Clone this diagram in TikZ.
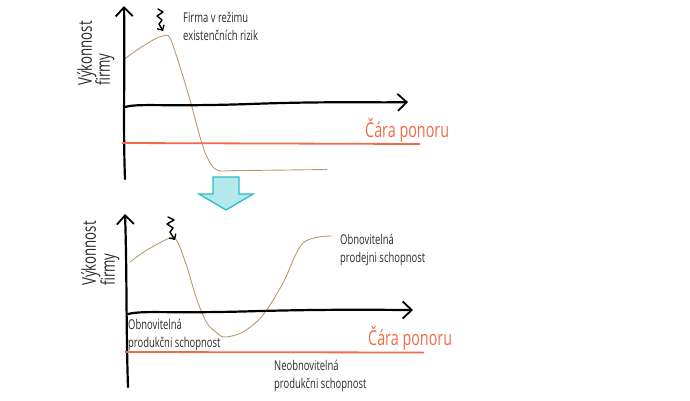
\documentclass[tikz,border=0pt]{standalone}
\usepackage{fontspec}
\setmainfont{Open Sans}[FakeStretch=0.7]
\usetikzlibrary{arrows.meta}
\definecolor{redline}{HTML}{F26B47}
\definecolor{tan}{HTML}{B89A70}
\definecolor{cyanfill}{HTML}{B3E8EC}
\definecolor{cyanline}{HTML}{2BBDC8}
\definecolor{ink}{HTML}{2A2A2A}
\tikzset{
  axis/.style={line width=2.2pt, black, line cap=round,
    -{Straight Barb[length=9pt,width=17pt,line width=1.8pt]}},
  sink/.style={line width=1.8pt, redline},
  perf/.style={line width=0.9pt, tan},
  squig/.style={line width=1.4pt, black, line cap=round, line join=round,
    -{Straight Barb[length=4pt,width=8pt,line width=1.3pt]}},
  lbl/.style={font=\fontsize{13.5}{17.5}\selectfont, text=ink, align=left, inner sep=0pt, anchor=north west},
  ylbl/.style={font=\fontsize{19}{20}\selectfont, text=ink, rotate=90, inner sep=0pt, anchor=west},
  sinklbl/.style={font=\fontsize{20.5}{22}\selectfont, text=redline, inner sep=0pt, anchor=base west},
  downarrow/.style={fill=cyanfill, draw=cyanline, line width=1.3pt, line join=miter}
}
\begin{document}
\begin{tikzpicture}[x=1pt,y=-1pt]
\useasboundingbox (0,0) rectangle (690,400);
% ---------- top panel ----------
\draw[perf] plot[smooth, tension=0.55] coordinates {(123,60) (140,48) (155,39) (163,36) (170,38) (180,67) (190,100) (200,137) (207,157) (217,170) (240,170.5) (327,169.5)};
\draw[axis] (125,179) .. controls (123,130) and (125,60) .. (124,6);
\draw[axis] (125,107) .. controls (140,103) and (160,107) .. (250,104) .. controls (330,101) and (380,103) .. (408,102);
\draw[sink] (122,143) -- (420,144);
\node[sinklbl] (s1) at (365,137) {Čára ponoru};
\draw[squig] (158,9) -- (163,12) -- (157,16) -- (162,20) -- (159,24) -- (163,31);
\node[lbl] (t1) at (183,12) {Firma v režimu\\existenčních rizik};
\node[ylbl] (y1a) at (87,86) {Výkonnost};
\node[ylbl] (y1b) at (105,86) {firmy};
% ---------- down arrow ----------
\draw[downarrow] (213,177) -- (239,177) -- (239,194) -- (253,194) -- (226,210) -- (199,194) -- (213,194) -- cycle;
% ---------- bottom panel ----------
\draw[perf] plot[smooth, tension=0.55] coordinates {(130,262) (147,250) (170,238) (177,241) (187,267) (197,300) (207,323) (217,333) (225,337) (243,332) (263,315) (283,283) (303,243) (332,236)};
\draw[axis] (128,387) .. controls (126,330) and (127,270) .. (125,214);
\draw[axis] (128,314) .. controls (145,310) and (165,314) .. (260,311) .. controls (340,309) and (390,310) .. (413,310);
\draw[sink] (125,352) -- (424,352.5);
\node[sinklbl] (s2) at (368,345) {Čára ponoru};
\draw[squig] (168,217) -- (174,220) -- (167,224) -- (173,228) -- (170,232) -- (175,240);
\node[lbl] (t2) at (340,234) {Obnovitelná\\prodejni schopnost};
\node[lbl] (t3) at (128,319) {Obnovitelná\\produkčni schopnost};
\node[lbl] (t4) at (274,360) {Neobnovitelná\\produkčni schopnost};
\node[ylbl] (y2a) at (91,286) {Výkonnost};
\node[ylbl] (y2b) at (110,286) {firmy};
\end{tikzpicture}
\end{document}
